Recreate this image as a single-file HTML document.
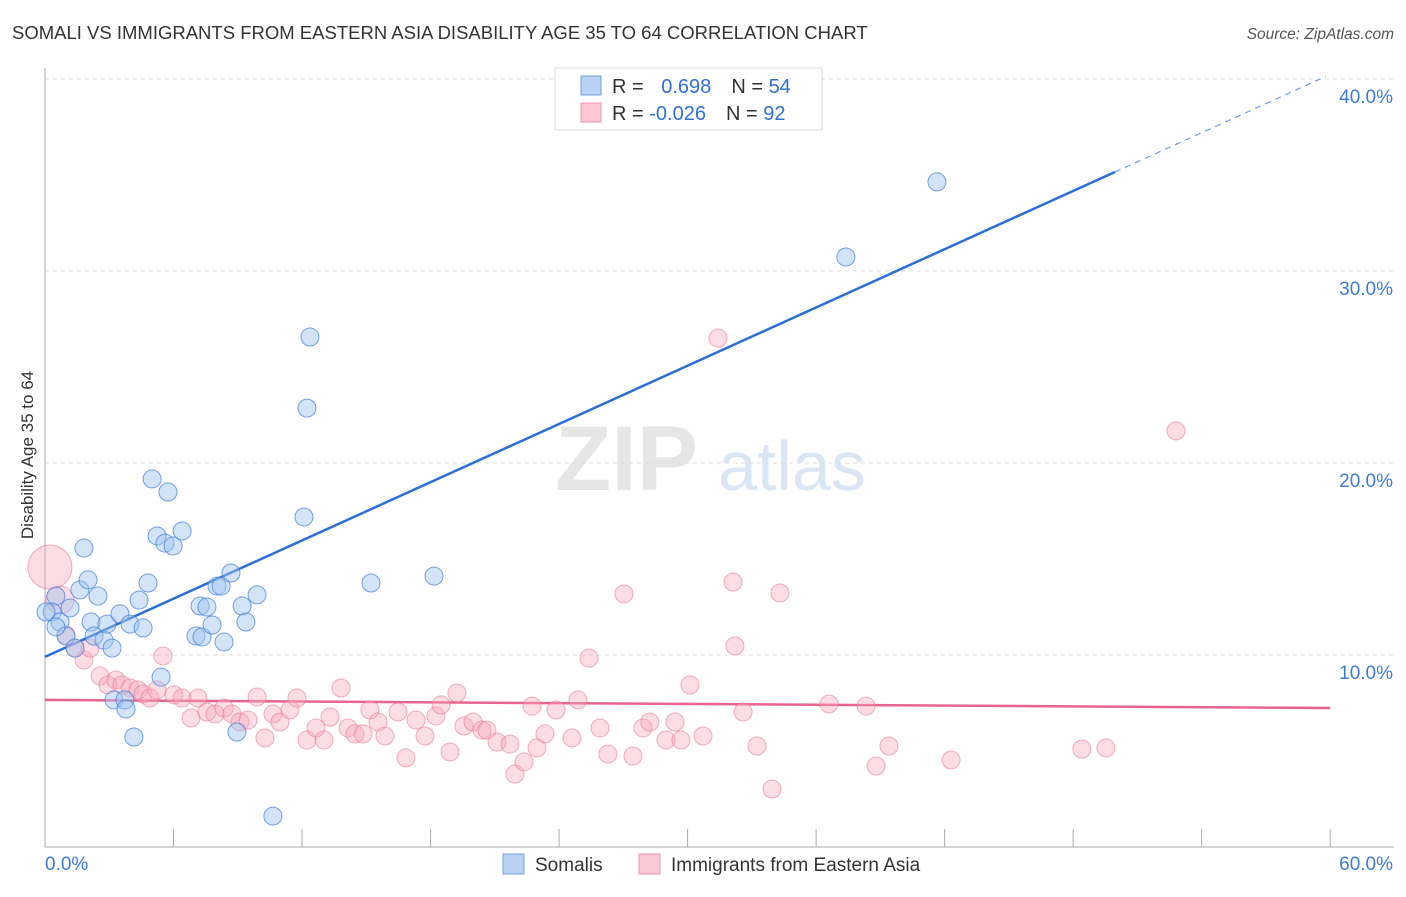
<!DOCTYPE html>
<html><head><meta charset="utf-8"><style>
body{margin:0;background:#fff;font-family:"Liberation Sans",sans-serif}
svg text{font-family:"Liberation Sans",sans-serif}
</style></head><body>
<svg id="chart" width="1406" height="892">
<text x="12" y="39" font-size="18.5" fill="#333">SOMALI VS IMMIGRANTS FROM EASTERN ASIA DISABILITY AGE 35 TO 64 CORRELATION CHART</text>
<text x="1394" y="39" font-size="15.5" fill="#555" text-anchor="end" font-style="italic">Source: ZipAtlas.com</text>
<text x="33" y="455" font-size="17" fill="#333" text-anchor="middle" transform="rotate(-90 33 455)">Disability Age 35 to 64</text>
<g><text x="555" y="490" font-size="92" fill="#e6e6e6" font-family="Liberation Serif" font-weight="bold">ZIP</text><text x="718" y="490" font-size="70" fill="#dbe6f5">atlas</text></g>
<g id="grid"></g><g id="axes"></g><g id="lines"></g><g id="pts"></g>
<g>
<rect x="555" y="68" width="267" height="62" fill="#fff" stroke="#ddd"/>
<rect x="581" y="76" width="20" height="19" fill="#b9d2f4" stroke="#6f9fe0"/>
<rect x="581" y="103" width="20" height="19" fill="#fbc8d6" stroke="#ec95ae"/>
<text x="612" y="93" font-size="20" fill="#333">R = <tspan fill="#2f6fd6" dx="12">0.698</tspan><tspan dx="20">N = </tspan><tspan fill="#2f6fd6">54</tspan></text>
<text x="612" y="120" font-size="20" fill="#333">R = <tspan fill="#2f6fd6">-0.026</tspan><tspan dx="20">N = </tspan><tspan fill="#2f6fd6">92</tspan></text>
</g>
<g>
<rect x="503" y="854" width="21" height="20" fill="#b9d2f4" stroke="#6f9fe0"/>
<text x="535" y="871" font-size="19" fill="#333">Somalis</text>
<rect x="639" y="854" width="21" height="20" fill="#fbc8d6" stroke="#ec95ae"/>
<text x="671" y="871" font-size="19" fill="#333">Immigrants from Eastern Asia</text>
</g>
</svg>
<script>
const yTicks=[10,20,30,40];
const yTickLabels=["10.0%","20.0%","30.0%","40.0%"];
const xTicks=[0,6,12,18,24,30,36,42,48,54,60];
const blueX=[10.64,0.51,0.33,0.70,0.98,1.17,1.40,1.63,1.82,2.01,2.15,2.29,2.47,2.75,2.89,3.13,3.22,3.50,3.73,3.78,3.97,4.15,4.39,4.58,4.81,5.00,5.23,5.42,5.60,5.74,5.98,6.40,7.05,7.24,7.33,7.56,7.80,8.03,8.22,8.36,8.68,8.96,9.20,9.38,9.90,12.09,12.23,12.37,15.22,18.16,37.39,41.64,0.05,0.51];
const blueY=[1.61,13.07,12.24,11.72,10.99,12.45,10.36,13.39,15.57,13.91,11.72,10.99,13.07,10.78,11.61,10.36,7.66,12.14,7.66,7.19,11.61,5.73,12.86,11.41,13.75,19.17,16.20,8.85,15.83,18.49,15.68,16.46,10.99,12.55,10.94,12.50,11.56,13.59,13.59,10.68,14.27,5.99,12.55,11.72,13.13,17.19,22.86,26.56,13.75,14.11,30.73,34.64,12.24,11.46];
const pinkX=[0.23,0.70,0.98,1.40,1.82,2.10,2.57,2.94,3.31,3.59,3.97,4.34,4.58,4.90,5.23,5.51,6.02,6.40,6.82,7.14,7.56,7.94,8.36,8.73,9.10,9.48,9.90,10.27,10.64,10.97,11.44,11.76,12.23,12.65,13.03,13.31,13.82,14.15,14.47,14.85,15.17,15.55,15.87,16.48,16.85,17.32,17.74,18.25,18.49,18.91,19.23,19.56,19.98,20.40,20.63,21.10,21.71,21.94,22.36,22.74,22.97,23.34,23.86,24.60,24.88,25.40,25.91,26.28,27.03,27.45,27.92,28.24,28.99,29.41,29.69,30.11,30.72,31.42,32.12,32.21,32.59,33.24,33.94,34.31,36.60,38.33,38.80,39.40,42.30,48.41,49.53,52.80];
const pinkY=[14.58,12.86,11.04,10.36,9.74,10.36,8.91,8.44,8.70,8.44,8.28,8.18,7.97,7.76,8.18,9.95,7.92,7.76,6.72,7.76,7.03,6.93,7.24,6.93,6.51,6.61,7.81,5.68,6.93,6.51,7.14,7.76,5.57,6.20,5.57,6.77,8.28,6.20,5.89,5.89,7.14,6.51,5.78,7.03,4.64,6.61,5.78,6.82,7.40,4.95,8.02,6.30,6.51,6.09,6.09,5.47,5.36,3.80,4.43,7.34,5.16,5.89,7.14,5.68,7.66,9.84,6.20,4.84,13.18,4.74,6.20,6.51,5.57,6.51,5.57,8.44,5.78,26.51,13.80,10.47,7.03,5.26,3.02,13.23,7.45,7.34,4.22,5.26,4.53,5.10,5.16,21.67];
const pinkR=[22,14];
const blueFit=[9.9,0.5056];
const pinkFit=[7.66,-0.007];
const NS="http://www.w3.org/2000/svg";
const X=v=>45+v*21.42, Y=v=>847-v*19.2;
function mk(t,a,p){const e=document.createElementNS(NS,t);for(const k in a)e.setAttribute(k,a[k]);document.getElementById(p).appendChild(e);return e;}
yTicks.forEach((t,i)=>{
 const g=mk('line',{x1:45,x2:1394,y1:Y(t),y2:Y(t),stroke:'#ddd','stroke-dasharray':'4,4'},'grid');
 
 
 const l=mk('text',{x:1393,y:Y(t)+24,'font-size':19,fill:'#3f7ad6','text-anchor':'end'},'axes');
 l.textContent=yTickLabels[i];
 
 
});
mk('line',{x1:45,x2:45,y1:68,y2:847,stroke:'#aaa'},'axes');
mk('line',{x1:45,x2:1394,y1:847,y2:847,stroke:'#aaa'},'axes');
xTicks.forEach(t=>{const e=mk('line',{x1:X(t),x2:X(t),y1:829,y2:847,stroke:'#aaa'},'axes');
 
 });
let a=mk('text',{x:45,y:870,'font-size':19,fill:'#3f7ad6'},'axes');a.textContent='0.0%';


a=mk('text',{x:1393,y:870,'font-size':19,fill:'#3f7ad6','text-anchor':'end'},'axes');a.textContent='60.0%';


pinkX.forEach((x,i)=>{const c=mk('circle',{cx:X(x),cy:Y(pinkY[i]),r:pinkR[i]||9,fill:'rgba(247,168,190,0.4)',stroke:'rgba(232,120,152,0.6)','stroke-width':1},'pts');
 
 });
blueX.forEach((x,i)=>{const c=mk('circle',{cx:X(x),cy:Y(blueY[i]),r:9,fill:'rgba(160,196,240,0.45)',stroke:'rgba(70,130,220,0.75)','stroke-width':1},'pts');
 
 });
const bf=x=>blueFit[0]+blueFit[1]*x;
let ln=mk('line',{x1:X(0),y1:Y(bf(0)),x2:X(49.95),y2:Y(bf(49.95)),stroke:'#2a6fd6','stroke-width':2.5},'lines');


ln=mk('line',{x1:X(49.95),y1:Y(bf(49.95)),x2:X(59.8),y2:Y(bf(59.8)),stroke:'#6f9fe0','stroke-width':1.2,'stroke-dasharray':'6,5'},'lines');


const pf=x=>pinkFit[0]+pinkFit[1]*x;
ln=mk('line',{x1:X(0),y1:Y(pf(0)),x2:X(60),y2:Y(pf(60)),stroke:'#e8648f','stroke-width':2.5},'lines');


</script>
</body></html>
